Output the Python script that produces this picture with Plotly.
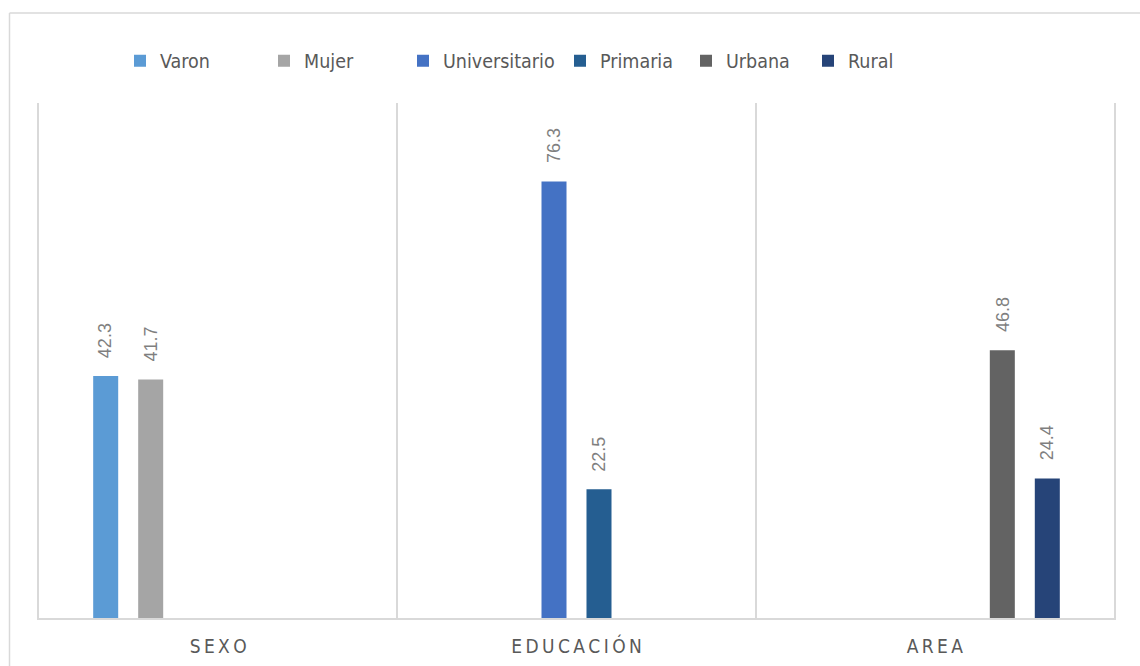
import plotly.graph_objects as go

# Categories and series
categories = ["SEXO", "EDUCACIÓN", "AREA"]
series_names = ["Varon", "Mujer", "Universitario", "Primaria", "Urbana", "Rural"]
series_category = ["SEXO", "SEXO", "EDUCACIÓN", "EDUCACIÓN", "AREA", "AREA"]
series_values = [42.3, 41.7, 76.3, 22.5, 46.8, 24.4]
series_colors = ["#5B9BD5", "#A5A5A5", "#4472C4", "#255E91", "#636363", "#264478"]

# letter-spaced category labels
category_labels = ["\u2009".join(c) for c in categories]

W, H = 1140, 666
ML, MR, MT, MB = 39, 26, 103, 48
PW, PH = W - ML - MR, H - MT - MB
BARGAP = 0.2467
GROUPGAP = 0.444

NARROW = "Liberation Sans Narrow, DejaVu Sans Condensed, Arial Narrow, sans-serif"
REGULAR = "Liberation Sans, Arial, sans-serif"
TEXT_COLOR = "#595959"
GRID = "#D9D9D9"

# left edge (px) of each legend entry along the top row
legend_left_px = [120, 264, 403, 560, 686, 808]

fig = go.Figure()
n = len(series_names)
legends = {}
for k, (name, cat, val, col) in enumerate(zip(series_names, series_category, series_values, series_colors)):
    lname = "legend" if k == 0 else f"legend{k + 1}"
    fig.add_trace(go.Bar(
        name=name,
        x=[cat],
        y=[val],
        marker=dict(color=col, line=dict(width=0)),
        hoverinfo="x+y+name",
        legend=lname,
    ))
    legends[lname] = dict(
        orientation="h", x=(legend_left_px[k] - ML) / PW, xanchor="left",
        y=(H - MB - 61) / PH, yanchor="middle",
        font=dict(family=NARROW, size=19.5, color=TEXT_COLOR),
        bgcolor="rgba(0,0,0,0)",
        itemclick=False, itemdoubleclick=False,
    )

# value labels, rotated, placed above each bar within its slot of the group
slot = (1 - BARGAP) / n
annotations = []
for k, (cat, val) in enumerate(zip(series_category, series_values)):
    xi = categories.index(cat) + (k - (n - 1) / 2) * slot
    annotations.append(dict(
        x=xi, y=val, xref="x", yref="y",
        text=f"{val:.1f}", showarrow=False,
        textangle=-90, xanchor="center", yanchor="bottom", yshift=16,
        font=dict(family=REGULAR, size=18, color="#7F7F7F"),
    ))

frame_x = (9.5 - ML) / PW
frame_top = (H - MB - 13) / PH

fig.update_layout(
    width=W, height=H,
    margin=dict(l=ML, r=MR, t=MT, b=MB, autoexpand=False),
    paper_bgcolor="white", plot_bgcolor="white",
    barmode="group", bargap=BARGAP, bargroupgap=GROUPGAP,
    showlegend=True,
    xaxis=dict(
        type="category",
        categoryorder="array", categoryarray=categories,
        tickmode="array", tickvals=categories, ticktext=category_labels,
        tickson="boundaries",
        showgrid=True, gridcolor=GRID, gridwidth=1.5,
        showline=True, linecolor=GRID, linewidth=2,
        ticks="", ticklabelstandoff=10, automargin=False,
        tickfont=dict(family=NARROW, size=19, color=TEXT_COLOR),
        range=[-0.5, 2.5], fixedrange=True,
    ),
    yaxis=dict(
        range=[0, 90], showticklabels=False, showgrid=False, zeroline=False,
        showline=True, mirror=True, linecolor=GRID, linewidth=1.5,
        ticks="", fixedrange=True, automargin=False,
    ),
    annotations=annotations,
    shapes=[
        # chart frame (left and top edges)
        dict(type="line", xref="paper", yref="paper",
             x0=frame_x, x1=frame_x, y0=frame_top, y1=-0.2,
             line=dict(color=GRID, width=1.5)),
        dict(type="line", xref="paper", yref="paper",
             x0=frame_x, x1=1.05, y0=frame_top, y1=frame_top,
             line=dict(color=GRID, width=1.5)),
    ],
    **legends,
)

fig.write_html("out.html", include_plotlyjs=True, config={"displayModeBar": False})
